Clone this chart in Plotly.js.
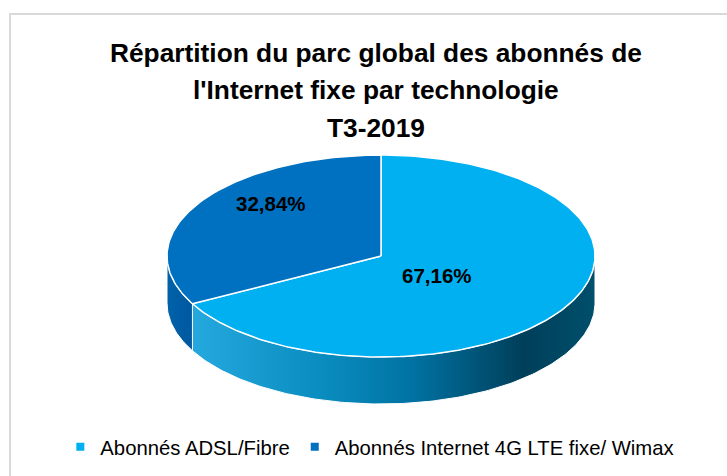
<!DOCTYPE html>
<html>
<head>
<meta charset="utf-8">
<script src="https://cdn.plot.ly/plotly-3.0.1.min.js"></script>
<style>
html,body{margin:0;padding:0;background:#fff}
#chart{width:727px;height:476px}
</style>
</head>
<body>
<div id="chart"></div>
<script>
// ---- data ----
const categories = ["Abonnés ADSL/Fibre", "Abonnés Internet 4G LTE fixe/ Wimax"];
const shares = [67.16, 32.84];
const valueLabels = ["67,16%", "32,84%"];
const titleLines = ["Répartition du parc global des abonnés de", "l'Internet fixe par technologie", "T3-2019"];

// ---- style / geometry ----
const FONT = "'Liberation Sans', Arial, sans-serif";
const topColors = ["#00B0F0", "#0070C0"];
const sideFills = [
  {type: "horizontal", colorscale: [[0, "#24a8de"], [0.3, "#0b8fc2"], [0.55, "#0072a2"], [0.82, "#003f5a"], [1, "#004f6b"]]},
  {type: "horizontal", colorscale: [[0, "#0062aa"], [1, "#0058a0"]]}
];
const cx = 381, cy = 256, rx = 214, ry = 101, depth = 47;
const labelOffsets = [[0.262, 0.193], [-0.512, -0.522]];
const titleY = [53, 90.3, 127.5];

function pt(deg, dy) {
  const a = deg * Math.PI / 180;
  return [cx + rx * Math.sin(a), cy - ry * Math.cos(a) + (dy || 0)];
}
function arc(a0, a1, dy) {
  const xs = [], ys = [];
  const n = Math.max(2, Math.ceil(Math.abs(a1 - a0)));
  for (let i = 0; i <= n; i++) {
    const p = pt(a0 + (a1 - a0) * i / n, dy);
    xs.push(p[0]); ys.push(p[1]);
  }
  return [xs, ys];
}

const total = shares.reduce((s, v) => s + v, 0);
const bounds = [];
let acc = 0;
shares.forEach(v => { const a0 = acc / total * 360; acc += v; bounds.push([a0, acc / total * 360]); });

const traces = [];
// side faces (front half: 90..270 deg)
bounds.forEach((b, i) => {
  const s0 = Math.max(b[0], 90), s1 = Math.min(b[1], 270);
  if (s1 <= s0) return;
  const [tx, ty] = arc(s0, s1, 0);
  const [bx, by] = arc(s1, s0, depth);
  traces.push({
    type: "scatter", mode: "lines", x: tx.concat(bx, [tx[0]]), y: ty.concat(by, [ty[0]]),
    fill: "toself", fillgradient: sideFills[i], line: {color: "#ffffff", width: 1},
    hoverinfo: "skip", showlegend: false
  });
});
// top faces
bounds.forEach((b, i) => {
  const [ax, ay] = arc(b[0], b[1], 0);
  traces.push({
    type: "scatter", mode: "lines", x: [cx].concat(ax, [cx]), y: [cy].concat(ay, [cy]),
    fill: "toself", fillcolor: topColors[i], line: {color: "#ffffff", width: 1.5},
    name: categories[i], text: valueLabels[i], hoverinfo: "name+text", showlegend: false
  });
});
// legend entries
categories.forEach((c, i) => {
  traces.push({
    type: "scatter", mode: "markers", x: [null], y: [null], name: c,
    marker: {symbol: "square", size: 8, color: topColors[i]}, showlegend: true, hoverinfo: "skip"
  });
});

const annotations = bounds.map((b, i) => ({
  x: cx + labelOffsets[i][0] * rx, y: cy + labelOffsets[i][1] * ry, xref: "x", yref: "y",
  xanchor: "center", yanchor: "middle",
  text: valueLabels[i], showarrow: false,
  font: {family: FONT, size: 20.5, color: "#000000", weight: "bold"}
}));
titleLines.forEach((t, i) => {
  annotations.push({
    x: 376, y: titleY[i], xref: "x", yref: "y", xanchor: "center", yanchor: "middle",
    text: t, showarrow: false,
    font: {family: FONT, size: 26.3, color: "#000000", weight: "bold"}
  });
});

const layout = {
  width: 727, height: 476,
  margin: {l: 0, r: 0, t: 0, b: 0},
  paper_bgcolor: "#ffffff", plot_bgcolor: "#ffffff",
  xaxis: {range: [0, 727], visible: false, fixedrange: true},
  yaxis: {range: [476, 0], visible: false, fixedrange: true},
  showlegend: true,
  legend: {
    orientation: "h", x: 0.083, xanchor: "left", y: 1 - 447 / 476, yanchor: "middle",
    font: {family: FONT, size: 20.3, color: "#000000"}, itemwidth: 30, tracegroupgap: 0
  },
  shapes: [{type: "rect", xref: "x", yref: "y", x0: 10, y0: 14, x1: 800, y1: 520,
    line: {color: "#d9d9d9", width: 2}, fillcolor: "rgba(0,0,0,0)", layer: "below"}],
  annotations: annotations
};

Plotly.newPlot("chart", traces, layout, {displayModeBar: false, staticPlot: true});
</script>
</body>
</html>
